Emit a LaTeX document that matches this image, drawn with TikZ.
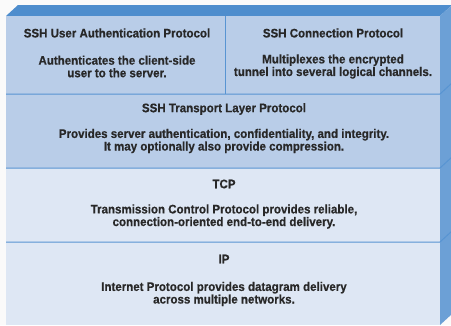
\documentclass[tikz,border=0pt]{standalone}
\usepackage{fontspec}
\newfontfamily\condb{Liberation Sans Bold}[FakeStretch=0.93, FakeBold=0.6]
\definecolor{bgc}{RGB}{250,250,250}
\definecolor{topc}{RGB}{78,141,205}
\definecolor{sidec}{RGB}{108,160,214}
\definecolor{sshc}{RGB}{185,205,232}
\definecolor{lowc}{RGB}{222,231,244}
\definecolor{divc}{RGB}{88,148,210}
\definecolor{txtc}{RGB}{40,40,40}
\tikzset{
  layer/.style={draw=none, inner sep=0pt, outer sep=0pt, rectangle},
  divline/.style={divc, line width=1pt},
  ttl/.style={inner sep=0pt, text=txtc, font=\fontsize{12.4}{12.6}\condb},
  body/.style={inner sep=0pt, text=txtc, align=center, font=\fontsize{12.4}{12.6}\condb},
}
\begin{document}
\begin{tikzpicture}[x=1pt,y=1pt]
\useasboundingbox (0,0) rectangle (451,325);
\fill[bgc] (0,0) rectangle (451,325);
\begin{scope}
\clip (0,0) rectangle (451,325);
\fill[topc] (6,309) -- (18,320) -- (452,320) -- (440,309) -- cycle;
\fill[sidec] (440,0) -- (452,11) -- (452,320) -- (440,309) -- cycle;
\end{scope}
% layers
\node[layer, fill=sshc, minimum width=219, minimum height=78] (auth) at (115.5,270) {};
\node[layer, fill=sshc, minimum width=215, minimum height=78] (conn) at (332.5,270) {};
\node[layer, fill=sshc, minimum width=434, minimum height=74] (trans) at (223,194) {};
\node[layer, fill=lowc, minimum width=434, minimum height=74] (tcp) at (223,120) {};
\node[layer, fill=lowc, minimum width=434, minimum height=83] (ip) at (223,41.5) {};
% dividers
\begin{scope}
\clip (0,0) rectangle (451,325);
\draw[divline] (auth.north east) -- (auth.south east);
\draw[divline] (trans.north west) -- (trans.north east) -- ++(12,11);
\draw[divline] (tcp.north west) -- (tcp.north east) -- ++(12,11);
\draw[divline] (ip.north west) -- (ip.north east) -- ++(12,11);
\end{scope}
% texts
\node[ttl] (authT) at (117,292) {SSH User Authentication Protocol};
\node[body] (authB) at (117,258.5) {Authenticates the client-side\\user to the server.};
\node[ttl] (connT) at (333,292) {SSH Connection Protocol};
\node[body] (connB) at (333,258.5) {Multiplexes the encrypted\\tunnel into several logical channels.};
\node[ttl] (transT) at (224,216) {SSH Transport Layer Protocol};
\node[body] (transB) at (224,184) {Provides server authentication, confidentiality, and integrity.\\It may optionally also provide compression.};
\node[ttl] (tcpT) at (224,141) {TCP};
\node[body] (tcpB) at (224,108.5) {Transmission Control Protocol provides reliable,\\connection-oriented end-to-end delivery.};
\node[ttl] (ipT) at (224,66) {IP};
\node[body] (ipB) at (224,31) {Internet Protocol provides datagram delivery\\across multiple networks.};
\end{tikzpicture}
\end{document}
